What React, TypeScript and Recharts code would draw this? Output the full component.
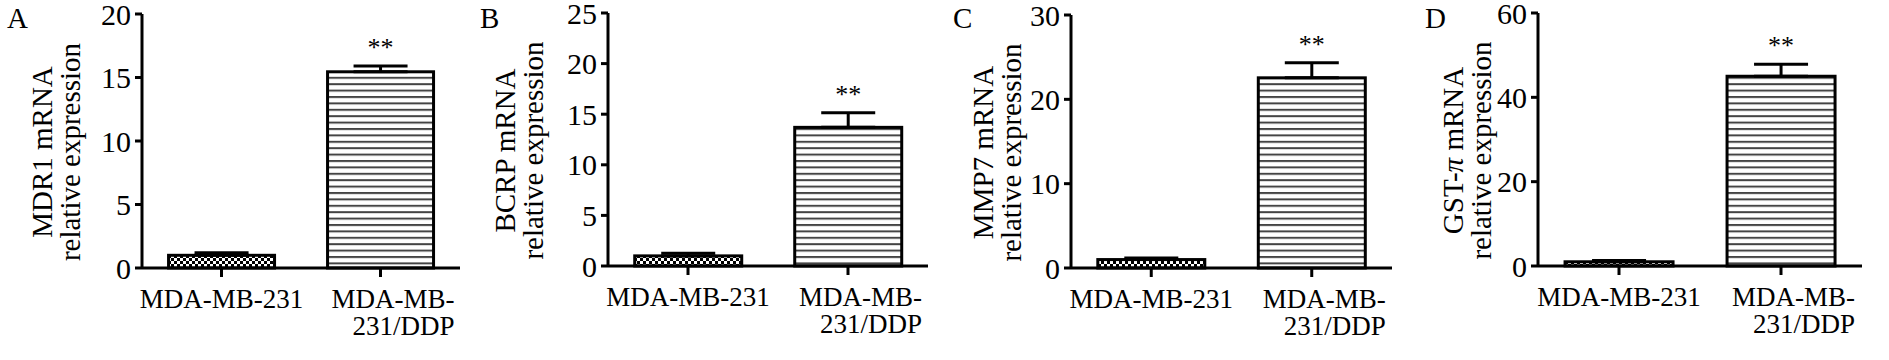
import React from "react";
import { Bar, BarChart, Cell, ErrorBar, XAxis, YAxis } from "recharts";

const categories = ["MDA-MB-231", "MDA-MB-231/DDP"];
const categoryLines = [["MDA-MB-231"], ["MDA-MB-", "231/DDP"]];
const significance = ["", "**"];
const barPatterns = ["url(#checker)", "url(#stripes)"];

const mdr1Values = [1.0, 15.45];
const mdr1Errors = [0.2, 0.45];
const mdr1Ticks = [0, 5, 10, 15, 20];

const bcrpValues = [1.0, 13.7];
const bcrpErrors = [0.25, 1.45];
const bcrpTicks = [0, 5, 10, 15, 20, 25];

const mmp7Values = [1.0, 22.55];
const mmp7Errors = [0.2, 1.8];
const mmp7Ticks = [0, 10, 20, 30];

const gstValues = [1.0, 45.0];
const gstErrors = [0.3, 2.85];
const gstTicks = [0, 20, 40, 60];

const FONT = "'Liberation Serif', 'Times New Roman', serif";
const Y_AXIS_W = 60;
const X_AXIS_H = 70;
const HEIGHT = 360;

const panels = [
  { letter: "A", letterX: 7, title: ["MDR1 mRNA", "relative expression"], values: mdr1Values, errors: mdr1Errors, ticks: mdr1Ticks, left: 0, width: 475, plotLeft: 142, plotRight: 460, plotTop: 14, plotBottom: 268, titleShift: 90 },
  { letter: "B", letterX: 480, title: ["BCRP mRNA", "relative expression"], values: bcrpValues, errors: bcrpErrors, ticks: bcrpTicks, left: 475, width: 470, plotLeft: 608, plotRight: 928, plotTop: 13, plotBottom: 266, titleShift: 93 },
  { letter: "C", letterX: 953, title: ["MMP7 mRNA", "relative expression"], values: mmp7Values, errors: mmp7Errors, ticks: mmp7Ticks, left: 945, width: 470, plotLeft: 1071, plotRight: 1392, plotTop: 15, plotBottom: 268, titleShift: 78 },
  { letter: "D", letterX: 1425, title: ["GST-\u03c0 mRNA", "relative expression"], values: gstValues, errors: gstErrors, ticks: gstTicks, left: 1415, width: 474, plotLeft: 1538, plotRight: 1862, plotTop: 13, plotBottom: 266, titleShift: 75 },
];

function withItalicPi(line: string) {
  const parts = line.split("\u03c0");
  if (parts.length === 1) return line;
  return parts.map((part, i) => (
    <React.Fragment key={i}>
      {i > 0 && <tspan fontStyle="italic">{"\u03c0"}</tspan>}
      {part}
    </React.Fragment>
  ));
}

function AxisTitle(props: any) {
  const { axisX, cy, lines, titleShift } = props;
  return (
    <g>
      {lines.map((line: string, i: number) => (
        <text
          key={i}
          transform={`translate(${axisX - titleShift + i * 28}, ${cy}) rotate(-90)`}
          textAnchor="middle"
          fontSize={29}
          fontFamily={FONT}
          fill="#000"
        >
          {withItalicPi(line)}
        </text>
      ))}
    </g>
  );
}

function CategoryTick(props: any) {
  const { x, y, payload } = props;
  const idx = categories.indexOf(payload.value);
  const lines = categoryLines[idx] || [payload.value];
  const multi = lines.length > 1;
  return (
    <g>
      {lines.map((line, i) => (
        <text
          key={i}
          x={multi ? x + 74 : x}
          y={y + 29 + i * 27}
          textAnchor={multi ? "end" : "middle"}
          fontSize={27}
          fontFamily={FONT}
          fill="#000"
        >
          {line}
        </text>
      ))}
    </g>
  );
}

function renderBarShape(props: any) {
  const { x, y, width, height, fill, payload } = props;
  const pxPerUnit = payload.value > 0 ? height / payload.value : 0;
  const capY = y - pxPerUnit * payload.err;
  return (
    <g>
      <rect x={x} y={y} width={width} height={height} fill={fill} stroke="#000" strokeWidth={3} />
      {payload.sig && (
        <text x={x + width / 2} y={capY - 10} textAnchor="middle" fontSize={26} fontFamily={FONT} fill="#000">
          {payload.sig}
        </text>
      )}
    </g>
  );
}

function Panel({ p }: { p: (typeof panels)[number] }) {
  const data = categories.map((name, i) => ({
    name,
    value: p.values[i],
    err: p.errors[i],
    range: [0, p.errors[i]],
    sig: significance[i],
  }));
  const margin = {
    top: p.plotTop,
    bottom: HEIGHT - p.plotBottom - X_AXIS_H,
    left: p.plotLeft - p.left - Y_AXIS_W,
    right: p.left + p.width - p.plotRight,
  };
  return (
    <div style={{ position: "absolute", left: p.left, top: 0 }}>
      <BarChart width={p.width} height={HEIGHT} data={data} margin={margin} barCategoryGap="16.7%">
        <XAxis
          dataKey="name"
          height={X_AXIS_H}
          interval={0}
          tickSize={9}
          axisLine={{ stroke: "#000", strokeWidth: 3 }}
          tickLine={{ stroke: "#000", strokeWidth: 3 }}
          tick={(tp: any) => <CategoryTick {...tp} />}
        />
        <YAxis
          width={Y_AXIS_W}
          domain={[0, p.ticks[p.ticks.length - 1]]}
          ticks={p.ticks}
          interval={0}
          tickSize={7}
          tickMargin={4}
          axisLine={{ stroke: "#000", strokeWidth: 3 }}
          tickLine={{ stroke: "#000", strokeWidth: 3 }}
          tick={{ fill: "#000", fontSize: 30, fontFamily: FONT }}
          label={
            <AxisTitle
              axisX={p.plotLeft - p.left}
              cy={(p.plotTop + p.plotBottom) / 2 + 11}
              lines={p.title}
              titleShift={p.titleShift}
            />
          }
        />
        <Bar dataKey="value" isAnimationActive={false} shape={renderBarShape}>
          {data.map((_, i) => (
            <Cell key={i} fill={barPatterns[i]} />
          ))}
          <ErrorBar dataKey="range" direction="y" width={27} stroke="#000" strokeWidth={3} isAnimationActive={false} />
        </Bar>
      </BarChart>
    </div>
  );
}

export default function App() {
  return (
    <div style={{ position: "absolute", left: 0, top: 0, width: 1889, height: HEIGHT, background: "#fff" }}>
      <svg width={1889} height={HEIGHT} style={{ position: "absolute", left: 0, top: 0 }}>
        <defs>
          <pattern id="checker" patternUnits="userSpaceOnUse" width={6} height={6}>
            <rect width={6} height={6} fill="#000" />
            <rect x={0} y={0} width={3} height={3} fill="#fff" />
            <rect x={3} y={3} width={3} height={3} fill="#fff" />
          </pattern>
          <pattern id="stripes" patternUnits="userSpaceOnUse" width={8} height={6.4}>
            <rect width={8} height={6.4} fill="#fff" />
            <rect x={0} y={0} width={8} height={2} fill="#444" />
          </pattern>
        </defs>
        {panels.map((p) => (
          <text key={p.letter} x={p.letterX} y={28} fontSize={29} fontFamily={FONT} fill="#000">
            {p.letter}
          </text>
        ))}
      </svg>
      {panels.map((p) => (
        <Panel key={p.letter} p={p} />
      ))}
    </div>
  );
}
